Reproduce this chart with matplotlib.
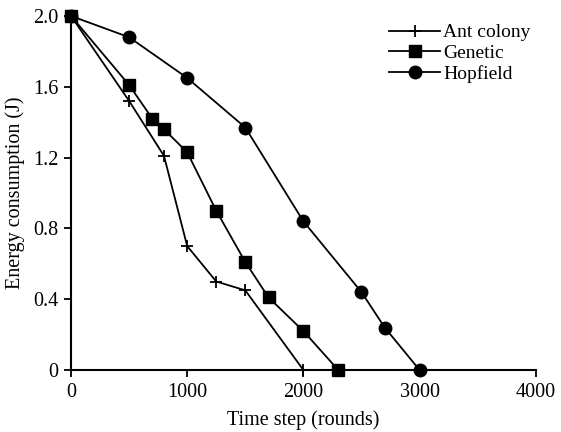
import matplotlib
matplotlib.use("Agg")
import matplotlib.pyplot as plt

plt.rcParams['font.family'] = ['Liberation Serif', 'DejaVu Serif']

ant_x = [0, 500, 800, 1000, 1250, 1500, 2000]
ant_y = [2.0, 1.52, 1.21, 0.70, 0.50, 0.45, 0.0]
gen_x = [0, 500, 700, 800, 1000, 1250, 1500, 1700, 2000, 2300]
gen_y = [2.0, 1.61, 1.42, 1.36, 1.23, 0.90, 0.61, 0.41, 0.22, 0.0]
hop_x = [0, 500, 1000, 1500, 2000, 2500, 2700, 3000]
hop_y = [2.0, 1.88, 1.65, 1.37, 0.84, 0.44, 0.24, 0.0]

x_ticks = [0, 1000, 2000, 3000, 4000]
y_ticks = [0, 0.4, 0.8, 1.2, 1.6, 2.0]
y_tick_labels = ["0", "0.4", "0.8", "1.2", "1.6", "2.0"]

fig = plt.figure(figsize=(5.61, 4.32), dpi=100)
ax = fig.add_axes([0.1266, 0.1435, 0.8284, 0.8195])

ax.plot(ant_x, ant_y, color='black', lw=1.3, marker='+', ms=9, mew=1.3, label='Ant colony', clip_on=False, zorder=3)
ax.plot(gen_x, gen_y, color='black', lw=1.3, marker='s', ms=8.5, label='Genetic', clip_on=False, zorder=3)
ax.plot(hop_x, hop_y, color='black', lw=1.3, marker='o', ms=9, label='Hopfield', clip_on=False, zorder=3)

ax.set_xlim(0, 4000)
ax.set_ylim(0, 2.0)
ax.set_xticks(x_ticks)
ax.set_yticks(y_ticks)
ax.set_yticklabels(y_tick_labels)
ax.spines['top'].set_visible(False)
ax.spines['right'].set_visible(False)
ax.spines['left'].set_linewidth(1.5)
ax.spines['bottom'].set_linewidth(1.5)
ax.tick_params(direction='out', length=5, width=1.3, labelsize=14.5, pad=4)

ax.set_xlabel('Time step (rounds)', fontsize=14.5, labelpad=6)
ax.set_ylabel('Energy consumption (J)', fontsize=14.5, labelpad=6)

leg = ax.legend(loc='upper right', bbox_to_anchor=(1.005, 1.0), frameon=False, fontsize=14,
                handlelength=2.6, handletextpad=0.15, labelspacing=0.15, borderaxespad=0)

fig.savefig('out.png', dpi=100)
